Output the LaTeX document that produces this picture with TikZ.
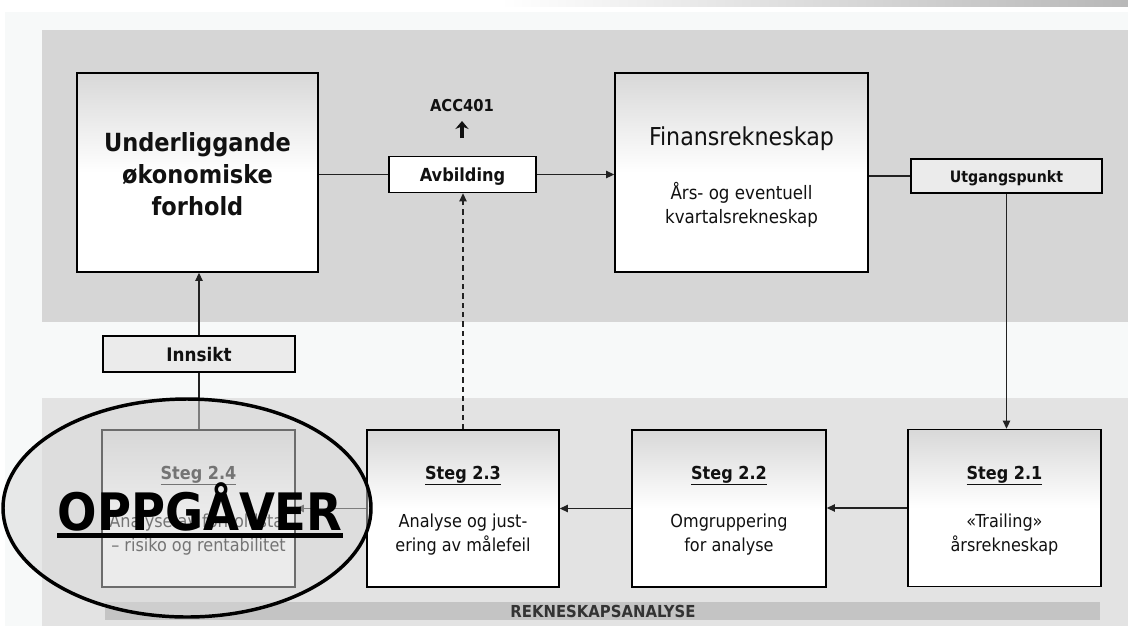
\documentclass[tikz,border=0pt]{standalone}
\usepackage{fontspec}
\setmainfont{DejaVu Sans Condensed}
\usetikzlibrary{arrows.meta,shapes.geometric}
\definecolor{bgband}{HTML}{F7F9F9}
\definecolor{toppanel}{HTML}{D6D6D6}
\definecolor{lowpanel}{HTML}{E3E3E3}
\definecolor{barfill}{HTML}{C4C4C4}
\definecolor{tagfill}{HTML}{EBEBEB}
\definecolor{boxtop}{HTML}{D8D8D8}
\definecolor{linecol}{HTML}{222222}
\definecolor{overlaycol}{HTML}{D8D8D8}
\definecolor{bartext}{HTML}{333333}
\definecolor{txtcol}{HTML}{111111}
\begin{document}
\begin{tikzpicture}[x=0.75pt,y=-0.75pt,
  bigbox/.style={draw=black, line width=1.2pt, top color=boxtop, bottom color=white, middle color=white, inner sep=0pt},
  tagbox/.style={draw=black, line width=1.2pt, fill=tagfill, inner sep=0pt},
  stegbox/.style={bigbox, minimum width=144.75pt, minimum height=117.75pt},
  txt/.style={anchor=base, inner sep=0pt, text=txtcol},
  bodyfont/.style={font=\fontsize{13.4}{16}\selectfont},
  titlefont/.style={font=\bfseries\fontsize{13.4}{16}\selectfont},
  conn/.style={draw=linecol, line width=0.9pt},
  arr/.style={conn, -{Triangle[length=6pt,width=5.5pt]}},
]
\useasboundingbox (0,0) rectangle (1128,626);
% backgrounds
\fill[white] (0,0) rectangle (1128,626);
\fill[left color=white, right color=black!28] (500,0) rectangle (1128,6);
\fill[bgband] (5,12) rectangle (1128,626);
\fill[toppanel] (42,30) rectangle (1128,322);
\fill[lowpanel] (42,398) rectangle (1128,626);
\node[fill=barfill, inner sep=0pt, minimum width=746.25pt, minimum height=13.5pt] (bar) at (602.5,611) {};
\node[txt, text=bartext, font=\bfseries\fontsize{12.4}{14}\selectfont] (bart) at (603,617) {REKNESKAPSANALYSE};

% top row
\node[bigbox, minimum width=180.75pt, minimum height=149.25pt] (und) at (197.5,172.5) {};
\node[txt, font=\bfseries\fontsize{18.75}{24}\selectfont] (und1) at (197.5,151) {Underliggande};
\node[txt, font=\bfseries\fontsize{18.75}{24}\selectfont] (und2) at (197.5,183) {økonomiske};
\node[txt, font=\bfseries\fontsize{18.75}{24}\selectfont] (und3) at (197.5,215) {forhold};

\node[bigbox, minimum width=189.75pt, minimum height=149.25pt] (fin) at (741.5,172.5) {};
\node[txt, font=\fontsize{18.5}{22}\selectfont] (fin1) at (741.5,145) {Finansrekneskap};
\node[txt, font=\fontsize{13.9}{18}\selectfont] (fin2) at (741.5,199) {Års- og eventuell};
\node[txt, font=\fontsize{13.9}{18}\selectfont] (fin3) at (741.5,223) {kvartalsrekneskap};

\node[tagbox, fill=white, minimum width=110.25pt, minimum height=27pt] (avb) at (462.5,174.5) {};
\node[txt, font=\bfseries\fontsize{13.5}{16}\selectfont] (avbt) at (462.5,181) {Avbilding};
\node[txt, font=\bfseries\fontsize{12.3}{14}\selectfont] (acc) at (462,111) {ACC401};
\coordinate (accfrom) at (462,138);
\coordinate (accto) at (462,121);
\draw[line width=2.4pt, draw=txtcol, -{Stealth[length=6pt,width=10pt]}] (accfrom) -- (accto);

\node[tagbox, minimum width=143.25pt, minimum height=25.5pt] (utg) at (1006.5,176) {};
\node[txt, font=\bfseries\fontsize{11.8}{14}\selectfont] (utgt) at (1006.5,182) {Utgangspunkt};

\node[tagbox, minimum width=144pt, minimum height=27pt] (ins) at (199,354) {};
\node[txt, font=\bfseries\fontsize{14}{16}\selectfont] (inst) at (199,361) {Innsikt};

% bottom row
\node[stegbox] (s1) at (1004.5,508) {};
\node[txt, titlefont] (s1t) at (1004.5,479) {\underline{Steg 2.1}};
\node[txt, bodyfont] (s1a) at (1004.5,527) {«Trailing»};
\node[txt, bodyfont] (s1b) at (1004.5,551) {årsrekneskap};

\node[stegbox, minimum width=145.5pt] (s2) at (729,508.5) {};
\node[txt, titlefont] (s2t) at (729,479) {\underline{Steg 2.2}};
\node[txt, bodyfont] (s2a) at (729,527) {Omgruppering};
\node[txt, bodyfont] (s2b) at (729,551) {for analyse};

\node[stegbox, minimum width=144pt] (s3) at (463,508.5) {};
\node[txt, titlefont] (s3t) at (463,479) {\underline{Steg 2.3}};
\node[txt, bodyfont] (s3a) at (463,527) {Analyse og just-};
\node[txt, bodyfont] (s3b) at (463,551.5) {ering av målefeil};

\node[stegbox] (s4) at (198.5,508.5) {};
\node[txt, titlefont] (s4t) at (198.5,479) {\underline{Steg 2.4}};
\node[txt, bodyfont] (s4a) at (198.5,527) {Analyse av forholdstal};
\node[txt, bodyfont] (s4b) at (198.5,551.5) {– risiko og rentabilitet};

% connectors
\draw[conn] (und.east |- avb.west) -- (avb.west);
\draw[arr] (avb.east) -- (avb.east -| fin.west);
\draw[conn] (fin.east |- utg.west) -- (utg.west);
\draw[arr] (utg.south) -- (utg.south |- s1.north);
\draw[arr] (s1.west) -- (s1.west -| s2.east);
\draw[arr] (s2.west) -- (s2.west -| s3.east);
\draw[arr] (s3.west) -- (s3.west -| s4.east);
\draw[arr, dash pattern=on 4pt off 3pt] (s3.north) -- (s3.north |- avb.south);
\draw[arr] (ins.north) -- (ins.north |- und.south);
\draw[conn] (ins.south) -- (ins.south |- s4.north);

% overlay ellipse
\node[ellipse, draw=black, line width=2.6pt, fill=overlaycol, fill opacity=0.5, inner sep=0pt, minimum width=276pt, minimum height=163.5pt] (ell) at (187,508) {};
\node[anchor=base, inner sep=0pt, font=\bfseries\fontsize{38.7}{42}\selectfont] (opp) at (200,530) {OPPGÅVER};
\draw[line width=3.6pt] ([yshift=-4.3pt]opp.base west) -- ([yshift=-4.3pt]opp.base east);
\end{tikzpicture}
\end{document}
